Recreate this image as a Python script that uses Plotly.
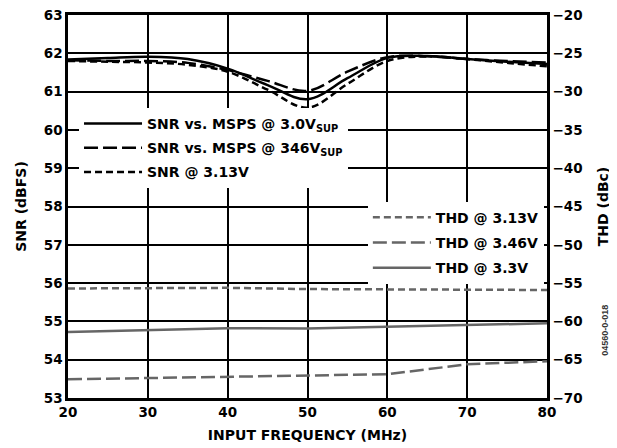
import plotly.graph_objects as go

# SNR data (left axis, dBFS)
snr_freq = [20, 25, 30, 35, 40, 45, 50, 55, 60, 65, 70, 75, 80]
snr_30v = [61.84, 61.88, 61.91, 61.85, 61.60, 61.17, 60.80, 61.35, 61.88, 61.93, 61.85, 61.78, 61.72]
snr_346v = [61.82, 61.80, 61.80, 61.75, 61.56, 61.28, 61.02, 61.52, 61.90, 61.92, 61.85, 61.80, 61.76]
snr_313v = [61.80, 61.78, 61.76, 61.70, 61.52, 61.05, 60.58, 61.20, 61.80, 61.92, 61.85, 61.75, 61.66]

# THD data (right axis, dBc)
thd_freq = [20, 30, 40, 50, 60, 70, 80]
thd_313v = [-55.70, -55.68, -55.62, -55.78, -55.80, -55.82, -55.90]
thd_346v = [-67.56, -67.40, -67.20, -67.10, -66.90, -65.60, -65.20]
thd_33v = [-61.40, -61.10, -60.90, -60.93, -60.70, -60.50, -60.25]

x_ticks = [20, 30, 40, 50, 60, 70, 80]

FONT = "DejaVu Sans, Liberation Sans, sans-serif"
BLACK = "#000000"
GRAY = "#666666"

fig = go.Figure()

fig.add_trace(go.Scatter(x=snr_freq, y=snr_30v, mode="lines", line=dict(color=BLACK, width=2.5, shape="spline"),
                         name="SNR vs. MSPS @ 3.0V<sub>SUP</sub>", legend="legend", legendgroup="a"))
fig.add_trace(go.Scatter(x=snr_freq, y=snr_346v, mode="lines", line=dict(color=BLACK, width=2.5, dash="14px,5px", shape="spline"),
                         name="SNR vs. MSPS @ 346V<sub>SUP</sub>", legend="legend", legendgroup="b"))
fig.add_trace(go.Scatter(x=snr_freq, y=snr_313v, mode="lines", line=dict(color=BLACK, width=2.5, dash="7px,4px", shape="spline"),
                         name="SNR @ 3.13V", legend="legend", legendgroup="c"))

fig.add_trace(go.Scatter(x=thd_freq, y=thd_313v, mode="lines", line=dict(color=GRAY, width=2.5, dash="7px,4px"),
                         name="THD @ 3.13V", yaxis="y2", legend="legend2", legendgroup="d"))
fig.add_trace(go.Scatter(x=thd_freq, y=thd_346v, mode="lines", line=dict(color=GRAY, width=2.5, dash="14px,5px"),
                         name="THD @ 3.46V", yaxis="y2", legend="legend2", legendgroup="e"))
fig.add_trace(go.Scatter(x=thd_freq, y=thd_33v, mode="lines", line=dict(color=GRAY, width=2.5),
                         name="THD @ 3.3V", yaxis="y2", legend="legend2", legendgroup="f"))

tick_font = dict(family=FONT, size=13.5, color=BLACK, weight="bold")
title_font = dict(family=FONT, size=14, color=BLACK, weight="bold")
leg_font = dict(family=FONT, size=14, color=BLACK, weight="bold")

fig.update_layout(
    width=609, height=440,
    margin=dict(l=60, r=70, t=7, b=50),
    paper_bgcolor="white", plot_bgcolor="white",
    font=tick_font,
    xaxis=dict(range=[20, 80], tickvals=x_ticks, showgrid=True, gridcolor=BLACK, gridwidth=1.5,
               showline=True, linecolor=BLACK, linewidth=2.5, mirror=True, ticks="",
               tickfont=tick_font, zeroline=False, automargin=False, ticklabeloverflow="allow",
               title=dict(text="INPUT FREQUENCY (MHz)", font=title_font, standoff=12)),
    yaxis=dict(range=[53, 63], dtick=1, showgrid=True, gridcolor=BLACK, gridwidth=1.5,
               showline=True, linecolor=BLACK, linewidth=2.5, ticks="", tickfont=tick_font, zeroline=False,
               automargin=False, ticklabeloverflow="allow",
               title=dict(text="SNR (dBFS)", font=title_font, standoff=14)),
    yaxis2=dict(range=[-70, -20], dtick=5, overlaying="y", side="right", showgrid=False,
                showline=True, linecolor=BLACK, linewidth=2.5, ticks="", tickfont=tick_font, zeroline=False,
                automargin=False, ticklabeloverflow="allow",
                title=dict(text="THD (dBc)", font=title_font, standoff=17)),
    legend=dict(x=0.023, y=0.7573, xanchor="left", yanchor="top", bgcolor="white", borderwidth=0,
                font=leg_font, itemwidth=58, tracegroupgap=3, traceorder="grouped"),
    legend2=dict(x=0.626, y=0.5126, xanchor="left", yanchor="top", bgcolor="white", borderwidth=0,
                 font=leg_font, itemwidth=58, tracegroupgap=4, traceorder="grouped"),
    showlegend=True,
)

fig.add_annotation(text="04560-0-018", x=1.121, y=0.178, xref="paper", yref="paper", xanchor="center",
                   yanchor="middle", textangle=-90, showarrow=False,
                   font=dict(family="Liberation Sans, Arial, sans-serif", size=9, color="#333333"))

fig.write_html("out.html")
